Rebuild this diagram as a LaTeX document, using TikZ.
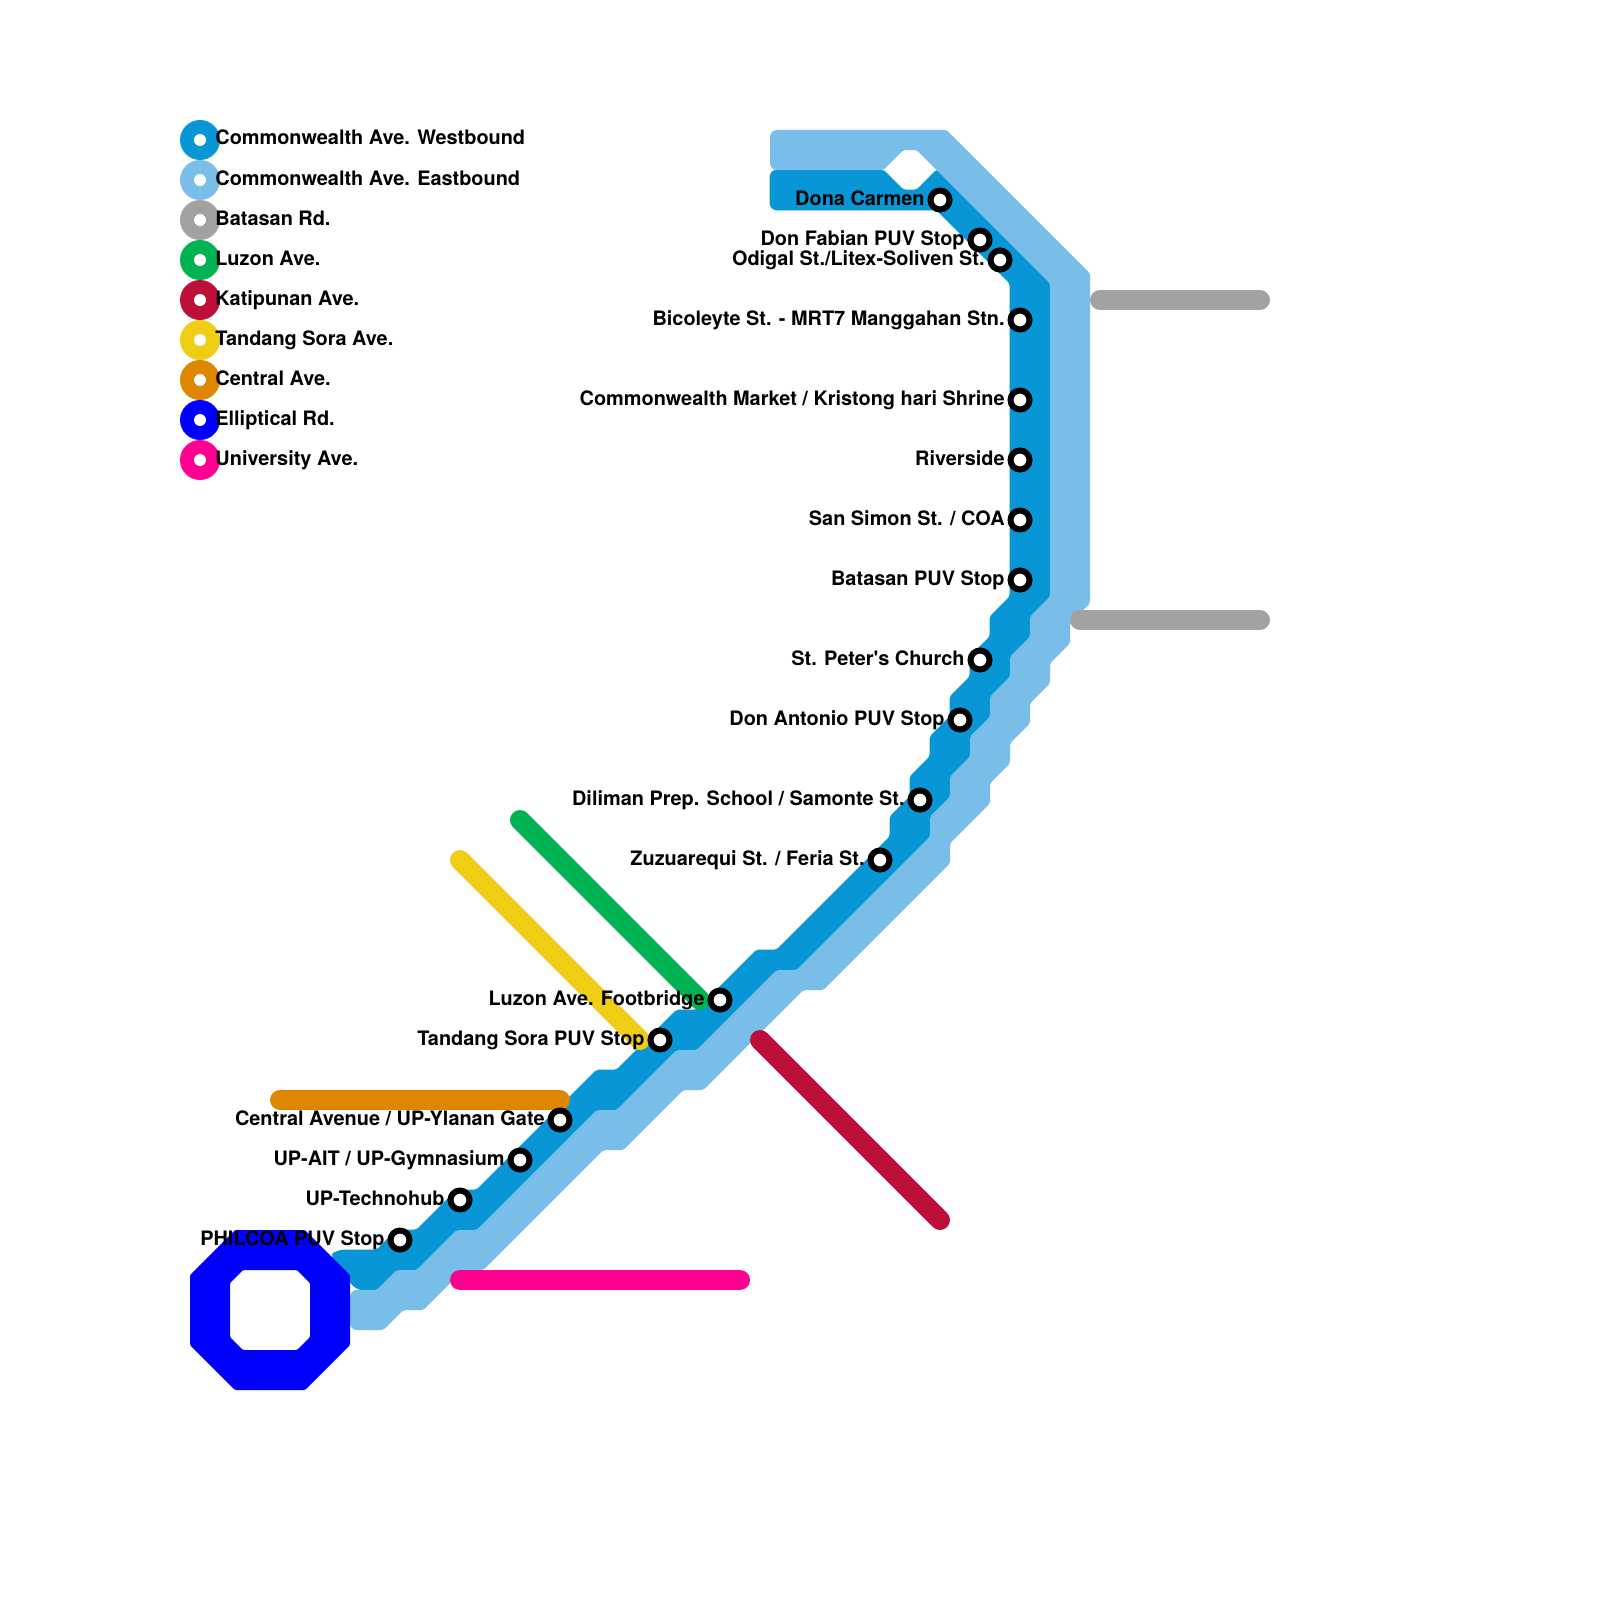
\documentclass[tikz,border=0pt]{standalone}
\usepackage{fontspec}
\newfontfamily\lblfont{TeX Gyre Heros}
\definecolor{cwest}{HTML}{0896D7}
\definecolor{ceast}{HTML}{79BDE9}
\definecolor{cgray}{HTML}{A2A2A2}
\definecolor{cgreen}{HTML}{00B251}
\definecolor{cred}{HTML}{BD1038}
\definecolor{cyellow}{HTML}{F0CE15}
\definecolor{corange}{HTML}{DF8600}
\definecolor{cblue}{HTML}{0000FF}
\definecolor{cpink}{HTML}{FF0090}
\tikzset{
  x=.5pt,y=-.5pt,
  road/.style={line width=10pt,line cap=round},
  band/.style={rounded corners=1pt},
  stn/.style={circle,draw=black,fill=white,line width=3pt,minimum size=9.5pt,inner sep=0pt},
  lbl/.style={font=\lblfont\bfseries\fontsize{9.95}{12}\selectfont,inner sep=0pt,anchor=base east},
  leglbl/.style={font=\lblfont\bfseries\fontsize{9.95}{12}\selectfont,inner sep=0pt,anchor=base west},
  legdot/.style={circle,fill=white,minimum size=6pt,inner sep=0pt},
  legdisc/.style={circle,minimum size=20pt,inner sep=0pt},
}
\begin{document}
\begin{tikzpicture}
\useasboundingbox (0,0) rectangle (1600,1600);
\fill[white] (0,0) rectangle (1600,1600);
% Westbound band
\path[fill=cwest,draw=cwest,line width=.4pt,band]
 (800,170) -- (883.33,170) -- (903.33,190) -- (916.67,190) -- (936.67,170) -- (1050,283.33)
 -- (1050,596.67) -- (1030,616.67) -- (1030,636.67) -- (1010,656.67) -- (1010,676.67) -- (990,696.67) -- (990,716.67)
 -- (970,736.67) -- (970,756.67) -- (950,776.67) -- (950,796.67) -- (930,816.67) -- (930,836.67)
 -- (796.67,970) -- (776.67,970) -- (696.67,1050) -- (676.67,1050) -- (616.67,1110) -- (596.67,1110)
 -- (476.67,1230) -- (456.67,1230) -- (416.67,1270) -- (396.67,1270) -- (376.67,1290)
 -- (368,1290) [rounded corners=3.5pt] -- (356.67,1290) -- (330,1257) -- (336.67,1250) -- (350,1250) [rounded corners=1pt]
 -- (376.67,1250) -- (396.67,1230) -- (416.67,1230) -- (456.67,1190) -- (476.67,1190)
 -- (596.67,1070) -- (616.67,1070) -- (676.67,1010) -- (696.67,1010) -- (756.67,950) -- (776.67,950)
 -- (890,836.67) -- (890,816.67) -- (910,796.67) -- (910,776.67) -- (930,756.67) -- (930,736.67)
 -- (950,716.67) -- (950,696.67) -- (970,676.67) -- (970,656.67) -- (990,636.67) -- (990,616.67)
 -- (1010,596.67) -- (1010,283.33) -- (936.67,210)
 -- (800,210) [rounded corners=3.5pt] -- (770,210) -- (770,170) -- (785,170) -- cycle;
% Eastbound band
\path[fill=ceast,band]
 (800,130) -- (946.67,130) -- (1090,273.33) -- (1090,603.33) -- (1070,623.33) -- (1070,643.33)
 -- (1050,663.33) -- (1050,683.33) -- (1030,703.33) -- (1030,723.33) -- (1010,743.33) -- (1010,763.33)
 -- (990,783.33) -- (990,803.33) -- (950,843.33) -- (950,863.33) -- (823.33,990) -- (803.33,990)
 -- (703.33,1090) -- (683.33,1090) -- (623.33,1150) -- (603.33,1150) -- (483.33,1270) -- (463.33,1270)
 -- (423.33,1310) -- (403.33,1310) -- (383.33,1330)
 -- (370,1330) [rounded corners=3.5pt] -- (350,1330) -- (350,1290) -- (362,1290) [rounded corners=1pt] -- (376.67,1290)
 -- (396.67,1270) -- (416.67,1270) -- (456.67,1230) -- (476.67,1230) -- (596.67,1110) -- (616.67,1110)
 -- (676.67,1050) -- (696.67,1050) -- (776.67,970) -- (796.67,970) -- (930,836.67) -- (930,816.67)
 -- (950,796.67) -- (950,776.67) -- (970,756.67) -- (970,736.67) -- (990,716.67) -- (990,696.67)
 -- (1010,676.67) -- (1010,656.67) -- (1030,636.67) -- (1030,616.67) -- (1050,596.67) -- (1050,283.33)
 -- (916.67,150) -- (903.33,150) -- (883.33,170)
 -- (800,170) [rounded corners=3.5pt] -- (770,170) -- (770,130) -- (785,130) -- cycle;
% Side roads
\coordinate (grayAa) at (1100,300); \coordinate (grayAb) at (1260,300);
\coordinate (grayBa) at (1080,620); \coordinate (grayBb) at (1260,620);
\coordinate (greena) at (520,820);  \coordinate (greenb) at (700,1000);
\coordinate (yellowa) at (460,860); \coordinate (yellowb) at (640,1040);
\coordinate (reda) at (760,1040);   \coordinate (redb) at (940,1220);
\coordinate (orangea) at (280,1100);\coordinate (orangeb) at (560,1100);
\coordinate (pinka) at (460,1280);  \coordinate (pinkb) at (740,1280);
\draw[road,cgray] (grayAa) -- (grayAb);
\draw[road,cgray] (grayBa) -- (grayBb);
\draw[road,cgreen] (greena) -- (greenb);
\draw[road,cyellow] (yellowa) -- (yellowb);
\draw[road,cred] (reda) -- (redb);
\draw[road,corange] (orangea) -- (orangeb);
\draw[road,cpink] (pinka) -- (pinkb);
% Elliptical Road octagon
\path[fill=cblue,even odd rule,rounded corners=.6pt]
 (235,1230) -- (305,1230) -- (350,1275) -- (350,1345) -- (305,1390) -- (235,1390) -- (190,1345) -- (190,1275) -- cycle
 (243,1270) -- (297,1270) -- (310,1283) -- (310,1337) -- (297,1350) -- (243,1350) -- (230,1337) -- (230,1283) -- cycle;
% Legend
\foreach \n/\c/\t [count=\i from 0] in {
  lwest/cwest/Commonwealth Ave. Westbound,
  least/ceast/Commonwealth Ave. Eastbound,
  lbat/cgray/Batasan Rd.,
  lluz/cgreen/Luzon Ave.,
  lkat/cred/Katipunan Ave.,
  ltan/cyellow/Tandang Sora Ave.,
  lcen/corange/Central Ave.,
  lell/cblue/Elliptical Rd.,
  luni/cpink/University Ave.}{
  \node[legdisc,fill=\c] (\n) at (200,140+40*\i) {};
  \node[legdot] (\n dot) at (\n) {};
  \node[leglbl] (\n text) at (215,145+40*\i) {\t};
}
% Stations
\foreach \n/\x/\y/\t in {
  sa/940/200/Dona Carmen,
  sb/980/240/Don Fabian PUV Stop,
  sc/1000/260/{Odigal St./Litex-Soliven St.},
  sd/1020/320/Bicoleyte St. - MRT7 Manggahan Stn.,
  se/1020/400/{Commonwealth Market / Kristong hari Shrine},
  sf/1020/460/Riverside,
  sg/1020/520/{San Simon St. / COA},
  sh/1020/580/Batasan PUV Stop,
  si/980/660/St. Peter's Church,
  sj/960/720/Don Antonio PUV Stop,
  sk/920/800/{Diliman Prep. School / Samonte St.},
  sl/880/860/{Zuzuarequi St. / Feria St.},
  sm/720/1000/Luzon Ave. Footbridge,
  sn/660/1040/Tandang Sora PUV Stop,
  so/560/1120/{Central Avenue / UP-Ylanan Gate},
  sp/520/1160/{UP-AIT / UP-Gymnasium},
  sq/460/1200/UP-Technohub,
  sr/400/1240/PHILCOA PUV Stop}{
  \node[stn] (\n) at (\x,\y) {};
  \node[lbl] (\n text) at (\x-15,\y+5) {\t};
}
\end{tikzpicture}
\end{document}
